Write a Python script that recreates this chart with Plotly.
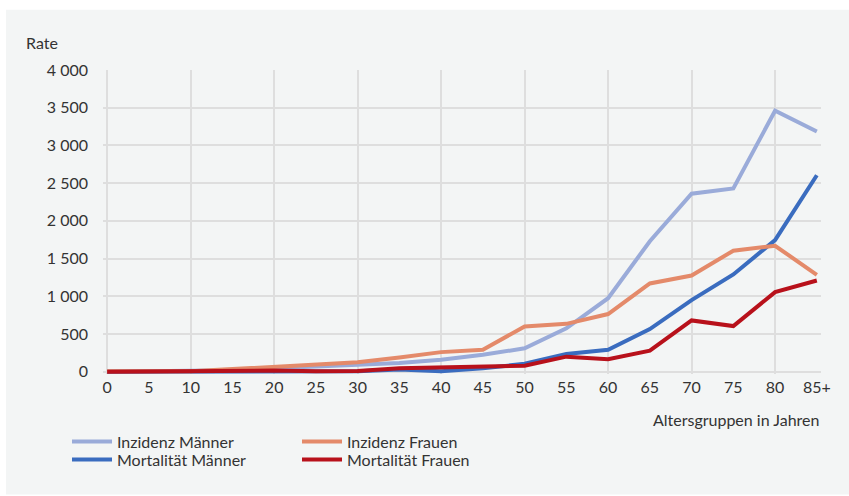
import plotly.graph_objects as go

ages = ["0", "5", "10", "15", "20", "25", "30", "35", "40", "45",
        "50", "55", "60", "65", "70", "75", "80", "85+"]
inz_m = [0, 5, 8, 20, 45, 65, 85, 115, 160, 225, 310, 575, 975, 1730, 2360, 2430, 3460, 3185]
inz_f = [5, 10, 8, 35, 65, 100, 125, 190, 260, 290, 600, 635, 765, 1170, 1275, 1605, 1670, 1285]
mort_m = [0, 0, 0, 5, 5, 5, 5, 30, 5, 45, 105, 235, 290, 565, 950, 1290, 1745, 2605]
mort_f = [0, 5, 0, 10, 15, 5, 10, 45, 55, 65, 80, 200, 165, 280, 680, 605, 1055, 1210]
y_ticks = [0, 500, 1000, 1500, 2000, 2500, 3000, 3500, 4000]

W, H = 849, 496
L, R, T, B = 103, 28, 69.5, 121.8
pw, ph = W - L - R, H - T - B
FONT = "Lato"
FS = 16
TXT = "#333333"


def px_x(p):
    return (p - L) / pw


def px_y(p):
    return (H - B - p) / ph


# (name, values, colour, legend id, legend left px, legend row centre px)
series = [
    ("Inzidenz Männer", inz_m, "#9aabd9", "legend", 67, 442),
    ("Mortalität Männer", mort_m, "#3a6cbf", "legend2", 67, 460),
    ("Inzidenz Frauen", inz_f, "#e48a6a", "legend3", 297, 442),
    ("Mortalität Frauen", mort_f, "#b8111b", "legend4", 297, 460),
]

xs = list(range(len(ages)))
fig = go.Figure()
legends = {}
for name, vals, col, lg, lx, ly in series:
    fig.add_trace(go.Scatter(x=xs, y=vals, mode="lines", name=name,
                             line=dict(color=col, width=4), legend=lg,
                             hoverinfo="skip"))
    legends[lg] = dict(x=px_x(lx), y=px_y(ly), xanchor="left", yanchor="middle",
                       bgcolor="rgba(0,0,0,0)", font=dict(size=FS, color=TXT),
                       itemwidth=40)

fig.add_trace(go.Scatter(x=[0], y=[0], xaxis="x2", mode="none", showlegend=False,
                         hoverinfo="skip"))

fig.update_layout(
    width=W, height=H,
    margin=dict(l=L, r=R, t=T, b=B),
    paper_bgcolor="white", plot_bgcolor="rgba(0,0,0,0)",
    separators=", ",
    font=dict(family=FONT, size=FS, color=TXT),
    shapes=[dict(type="rect", xref="paper", yref="paper", layer="below",
                 x0=px_x(6), x1=px_x(849), y0=px_y(495), y1=px_y(9),
                 fillcolor="#f3f5f5", line=dict(width=0))],
    xaxis=dict(range=[-0.1, 17.1], tickmode="array", tickvals=xs, ticktext=ages,
               showgrid=False, zeroline=False, showline=False, ticks="",
               ticklabelstandoff=2, tickfont=dict(size=FS, color=TXT)),
    xaxis2=dict(range=[-0.1, 17.1], overlaying="x", tickmode="array",
                tickvals=xs[0:17:2], showticklabels=False, showgrid=True,
                gridcolor="#dedede", gridwidth=1.5, zeroline=False),
    yaxis=dict(range=[-30, 4000], tickmode="array", tickvals=y_ticks,
               tickformat=",d", showgrid=True, gridcolor="#dedede", gridwidth=1.5,
               zeroline=False, showline=False, ticks="", ticklabelstandoff=14,
               tickfont=dict(size=FS, color=TXT)),
    annotations=[
        dict(text="Rate", xref="paper", yref="paper", x=px_x(24), y=px_y(42),
             xanchor="left", yanchor="middle", showarrow=False,
             font=dict(size=FS, color=TXT)),
        dict(text="Altersgruppen in Jahren", xref="paper", yref="paper",
             x=px_x(821), y=px_y(420), xanchor="right", yanchor="middle",
             showarrow=False, font=dict(size=FS, color=TXT)),
    ],
    **legends,
)

fig.write_html("out.html", config={"displayModeBar": False},
               post_script="document.body.style.margin='0';")
